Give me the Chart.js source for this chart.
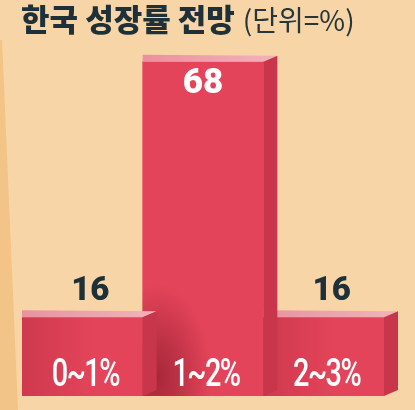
<!DOCTYPE html>
<html>
<head>
<meta charset="utf-8">
<script src="https://cdn.jsdelivr.net/npm/chart.js@4"></script>
<style>
  html, body { margin: 0; padding: 0; background: #F7D5A6; }
  canvas { display: block; }
</style>
</head>
<body>
<canvas id="myChart" width="415" height="410"></canvas>
<script>
var categories = ['0~1%', '1~2%', '2~3%'];
var values = [16, 68, 16];
var titleMain = '한국 성장률 전망';
var titleUnit = '(단위=%)';

var FRONT = '#E4445A';
var SIDE = '#C7364A';
var DEPTH_X = 14;

// top face + right side face for one bar
function drawBlock(ctx, bar) {
    var x0 = bar.x - bar.width / 2, x1 = bar.x + bar.width / 2;
    var top = bar.y, base = bar.base;
    var g = ctx.createLinearGradient(x0, 0, x1 + DEPTH_X, 0);
    g.addColorStop(0, '#EA919F');
    g.addColorStop(1, '#F2B3BB');
    ctx.fillStyle = g;
    ctx.beginPath();
    ctx.moveTo(x0, top);
    ctx.lineTo(x1, top);
    ctx.lineTo(x1 + DEPTH_X, top - 6);
    ctx.lineTo(x0, top - 7);
    ctx.closePath();
    ctx.fill();
    ctx.fillStyle = SIDE;
    ctx.beginPath();
    ctx.moveTo(x1, top);
    ctx.lineTo(x1 + DEPTH_X, top - 6);
    ctx.lineTo(x1 + DEPTH_X, base - 6);
    ctx.lineTo(x1, base);
    ctx.closePath();
    ctx.fill();
}

var backdrop = {
    id: 'backdrop',
    beforeDraw: function(chart) {
        var ctx = chart.ctx;
        ctx.save();
        ctx.fillStyle = '#F7D5A6';
        ctx.fillRect(0, 0, chart.width, chart.height);
        ctx.fillStyle = '#F3C487';
        ctx.beginPath();
        ctx.moveTo(0, 40);
        ctx.lineTo(2, 40);
        ctx.lineTo(18, chart.height);
        ctx.lineTo(0, chart.height);
        ctx.closePath();
        ctx.fill();

        ctx.textBaseline = 'middle';
        ctx.textAlign = 'left';
        ctx.fillStyle = '#1E3038';
        ctx.font = '900 31px "Noto Sans CJK KR"';
        ctx.fillText(titleMain, 21, 19);
        var w = ctx.measureText(titleMain).width;
        ctx.fillStyle = '#26363D';
        ctx.font = '400 28px "Noto Sans CJK KR"';
        ctx.fillText(titleUnit, 21 + w + 8, 20);
        ctx.restore();
    }
};

var blocks = {
    id: 'blocks',
    afterDatasetsDraw: function(chart) {
        var ctx = chart.ctx;
        var bars = chart.getDatasetMeta(0).data;
        var mid = bars[1], left = bars[0], right = bars[2];
        ctx.save();

        // soft shadow cast on the tall bar by the left block
        var mx0 = mid.x - mid.width / 2;
        ctx.save();
        ctx.beginPath();
        ctx.rect(mx0, mid.y, mid.width, mid.base - mid.y);
        ctx.clip();
        ctx.translate(mx0 + DEPTH_X, left.y + 60);
        ctx.scale(1, 1.7);
        var rg = ctx.createRadialGradient(0, 0, 0, 0, 0, 55);
        rg.addColorStop(0, 'rgba(125,20,35,0.6)');
        rg.addColorStop(0.45, 'rgba(125,20,35,0.35)');
        rg.addColorStop(1, 'rgba(125,20,35,0)');
        ctx.fillStyle = rg;
        ctx.fillRect(-60, -60, 120, 120);
        ctx.restore();

        // soft left shading on the small fronts
        [left, right].forEach(function(b) {
            var bx0 = b.x - b.width / 2;
            var lg = ctx.createLinearGradient(bx0, 0, bx0 + b.width, 0);
            lg.addColorStop(0, 'rgba(150,30,45,0.28)');
            lg.addColorStop(0.6, 'rgba(150,30,45,0)');
            ctx.fillStyle = lg;
            ctx.fillRect(bx0, b.y, b.width, b.base - b.y);
        });

        drawBlock(ctx, left);
        drawBlock(ctx, right);
        drawBlock(ctx, mid);

        ctx.textAlign = 'center';
        ctx.textBaseline = 'middle';
        bars.forEach(function(b, i) {
            if (b.base - b.y > 150) {
                ctx.fillStyle = '#FFFFFF';
                ctx.font = '900 35px Roboto';
                ctx.fillText(values[i], b.x, b.y + 23);
            } else {
                ctx.fillStyle = '#1E3038';
                ctx.font = '900 33px Roboto';
                ctx.fillText(values[i], b.x + 8, b.y - 26);
            }
            // category labels inside bars, condensed
            ctx.save();
            ctx.translate(b.x + 3, b.base - 20);
            ctx.scale(0.76, 1);
            ctx.fillStyle = '#FFFFFF';
            ctx.font = '500 38px Roboto';
            ctx.letterSpacing = '-2px';
            ctx.fillText(categories[i], 0, 0);
            ctx.restore();
        });
        ctx.restore();
    }
};

var ctx = document.getElementById('myChart').getContext('2d');
var myChart = new Chart(ctx, {
    type: 'bar',
    data: {
        labels: categories,
        datasets: [{
            data: values,
            backgroundColor: FRONT,
            borderWidth: 0,
            barPercentage: 1,
            categoryPercentage: 1
        }]
    },
    options: {
        responsive: false,
        animation: false,
        layout: {
            padding: { top: 42, bottom: 14, left: 22, right: 31 }
        },
        plugins: {
            legend: { display: false },
            title: { display: false },
            tooltip: { enabled: false }
        },
        scales: {
            x: { display: false },
            y: { display: false, min: 0, max: 72 }
        }
    },
    plugins: [backdrop, blocks]
});
</script>
</body>
</html>
